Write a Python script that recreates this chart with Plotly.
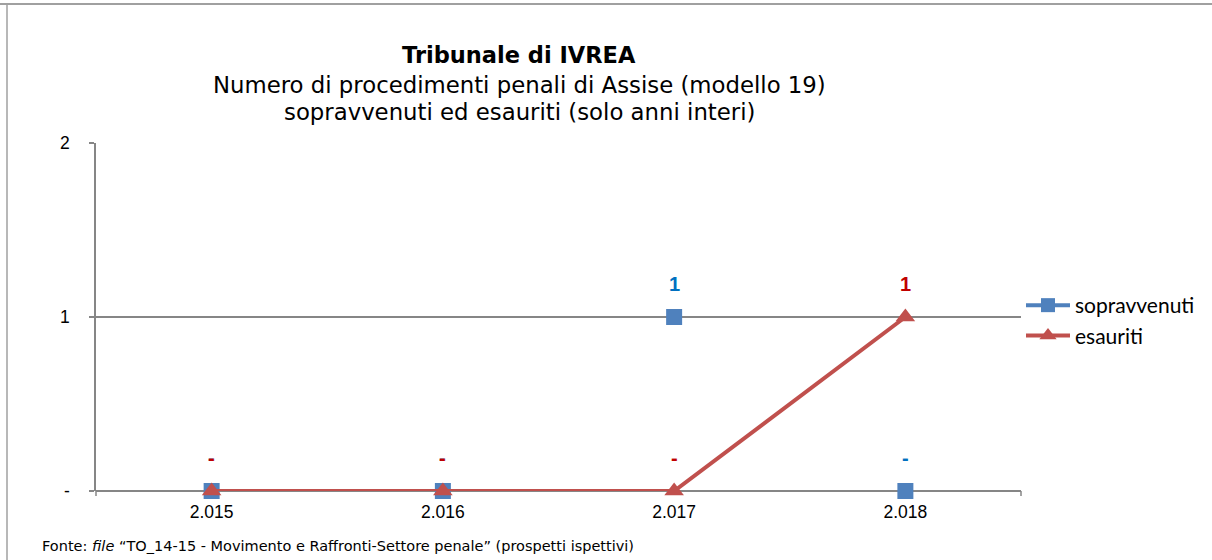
import plotly.graph_objects as go

categories = ["2.015", "2.016", "2.017", "2.018"]
sopravvenuti = [0, 0, 1, 0]
esauriti = [0, 0, 0, 1]
y_tickvals = [0, 1, 2]
y_ticktext = ["-", "1", "2"]

BLUE = "#4F81BD"
RED = "#C0504D"
BLUE_LBL = "#0070C0"
RED_LBL = "#C00000"
GRAY = "#868686"

L, R, T, B = 96, 191, 143, 69
W, H = 1212, 560
PW, PH = W - L - R, H - T - B


def px(x):
    return (x - L) / PW


def py(y):
    return (H - B - y) / PH


fig = go.Figure()

fig.add_trace(go.Scatter(
    x=categories, y=sopravvenuti, mode="markers", name="sopravvenuti",
    marker=dict(symbol="square", size=16, color=BLUE), showlegend=False,
    cliponaxis=False,
))
fig.add_trace(go.Scatter(
    x=categories, y=esauriti, mode="lines+markers", name="esauriti",
    line=dict(color=RED, width=4),
    marker=dict(symbol="triangle-up", size=17, color=RED), showlegend=False,
    cliponaxis=False,
))
# legend entries
fig.add_trace(go.Scatter(
    x=[None], y=[None], mode="lines+markers", name="sopravvenuti",
    line=dict(color=BLUE, width=4),
    marker=dict(symbol="square", size=14, color=BLUE),
))
fig.add_trace(go.Scatter(
    x=[None], y=[None], mode="lines+markers", name="esauriti",
    line=dict(color=RED, width=4),
    marker=dict(symbol="triangle-up", size=15, color=RED),
))

annotations = []


def fmt(v):
    return "-" if v == 0 else str(v)


for series, col in ((sopravvenuti, BLUE_LBL), (esauriti, RED_LBL)):
    for i, v in enumerate(series):
        annotations.append(dict(
            x=i, y=v, xref="x", yref="y", text="<b>%s</b>" % fmt(v),
            showarrow=False, yshift=33,
            font=dict(family="Liberation Sans, Arial", size=20, color=col),
        ))

annotations += [
    dict(x=px(519), y=py(40), xref="paper", yref="paper",
         text="<b>Tribunale di IVREA</b>", showarrow=False,
         font=dict(family="DejaVu Sans", size=22.5, color="black")),
    dict(x=px(519), y=py(70), xref="paper", yref="paper",
         text="Numero di procedimenti penali di Assise (modello 19)", showarrow=False,
         font=dict(family="DejaVu Sans", size=22.8, color="black")),
    dict(x=px(519), y=py(97), xref="paper", yref="paper",
         text="sopravvenuti ed esauriti (solo anni interi)", showarrow=False,
         font=dict(family="DejaVu Sans", size=22.8, color="black")),
    dict(x=px(40), y=py(546), xref="paper", yref="paper", xanchor="left",
         yanchor="middle",
         text="Fonte: <i>file</i> \u201cTO_14-15 - Movimento e Raffronti-Settore penale\u201d (prospetti ispettivi)",
         showarrow=False,
         font=dict(family="DejaVu Sans", size=14.5, color="black")),
]

shapes = [
    # outer border (top and left)
    dict(type="line", xref="paper", yref="paper", x0=px(0), x1=px(1212), y0=py(4), y1=py(4),
         line=dict(color="#A0A0A0", width=2)),
    dict(type="line", xref="paper", yref="paper", x0=px(7), x1=px(7), y0=py(4), y1=py(560),
         line=dict(color="#A0A0A0", width=1.5)),
    # end ticks on the x axis
    dict(type="line", xref="paper", yref="paper", x0=0, x1=0, y0=0, y1=py(496),
         line=dict(color=GRAY, width=1.5)),
    dict(type="line", xref="paper", yref="paper", x0=1, x1=1, y0=0, y1=py(496),
         line=dict(color=GRAY, width=1.5)),
]

fig.update_layout(
    width=W, height=H,
    margin=dict(l=L, r=R, t=T, b=B),
    paper_bgcolor="white", plot_bgcolor="white",
    showlegend=True,
    legend=dict(x=px(1021), y=py(285), xanchor="left", yanchor="top",
                font=dict(family="Lato", size=21, color="black"),
                itemwidth=44, tracegroupgap=0, bgcolor="rgba(0,0,0,0)"),
    annotations=annotations,
    shapes=shapes,
    xaxis=dict(
        type="category", range=[-0.5, 3.5], showgrid=False, zeroline=False,
        showline=False, ticks="", ticklabelstandoff=8,
        tickfont=dict(family="Liberation Sans, Arial", size=17.5, color="black"),
    ),
    yaxis=dict(
        range=[0, 2], tickvals=y_tickvals, ticktext=y_ticktext,
        showgrid=True, gridcolor=GRAY, gridwidth=1.5,
        zeroline=True, zerolinecolor=GRAY, zerolinewidth=1.5,
        showline=True, linecolor=GRAY, linewidth=1.5,
        ticks="outside", ticklen=5, tickcolor=GRAY, tickwidth=1.5,
        ticklabelstandoff=16,
        tickfont=dict(family="Liberation Sans, Arial", size=17.5, color="black"),
    ),
)

fig.write_html("out.html", config={"displayModeBar": False},
               post_script="document.body.style.margin='0';")
